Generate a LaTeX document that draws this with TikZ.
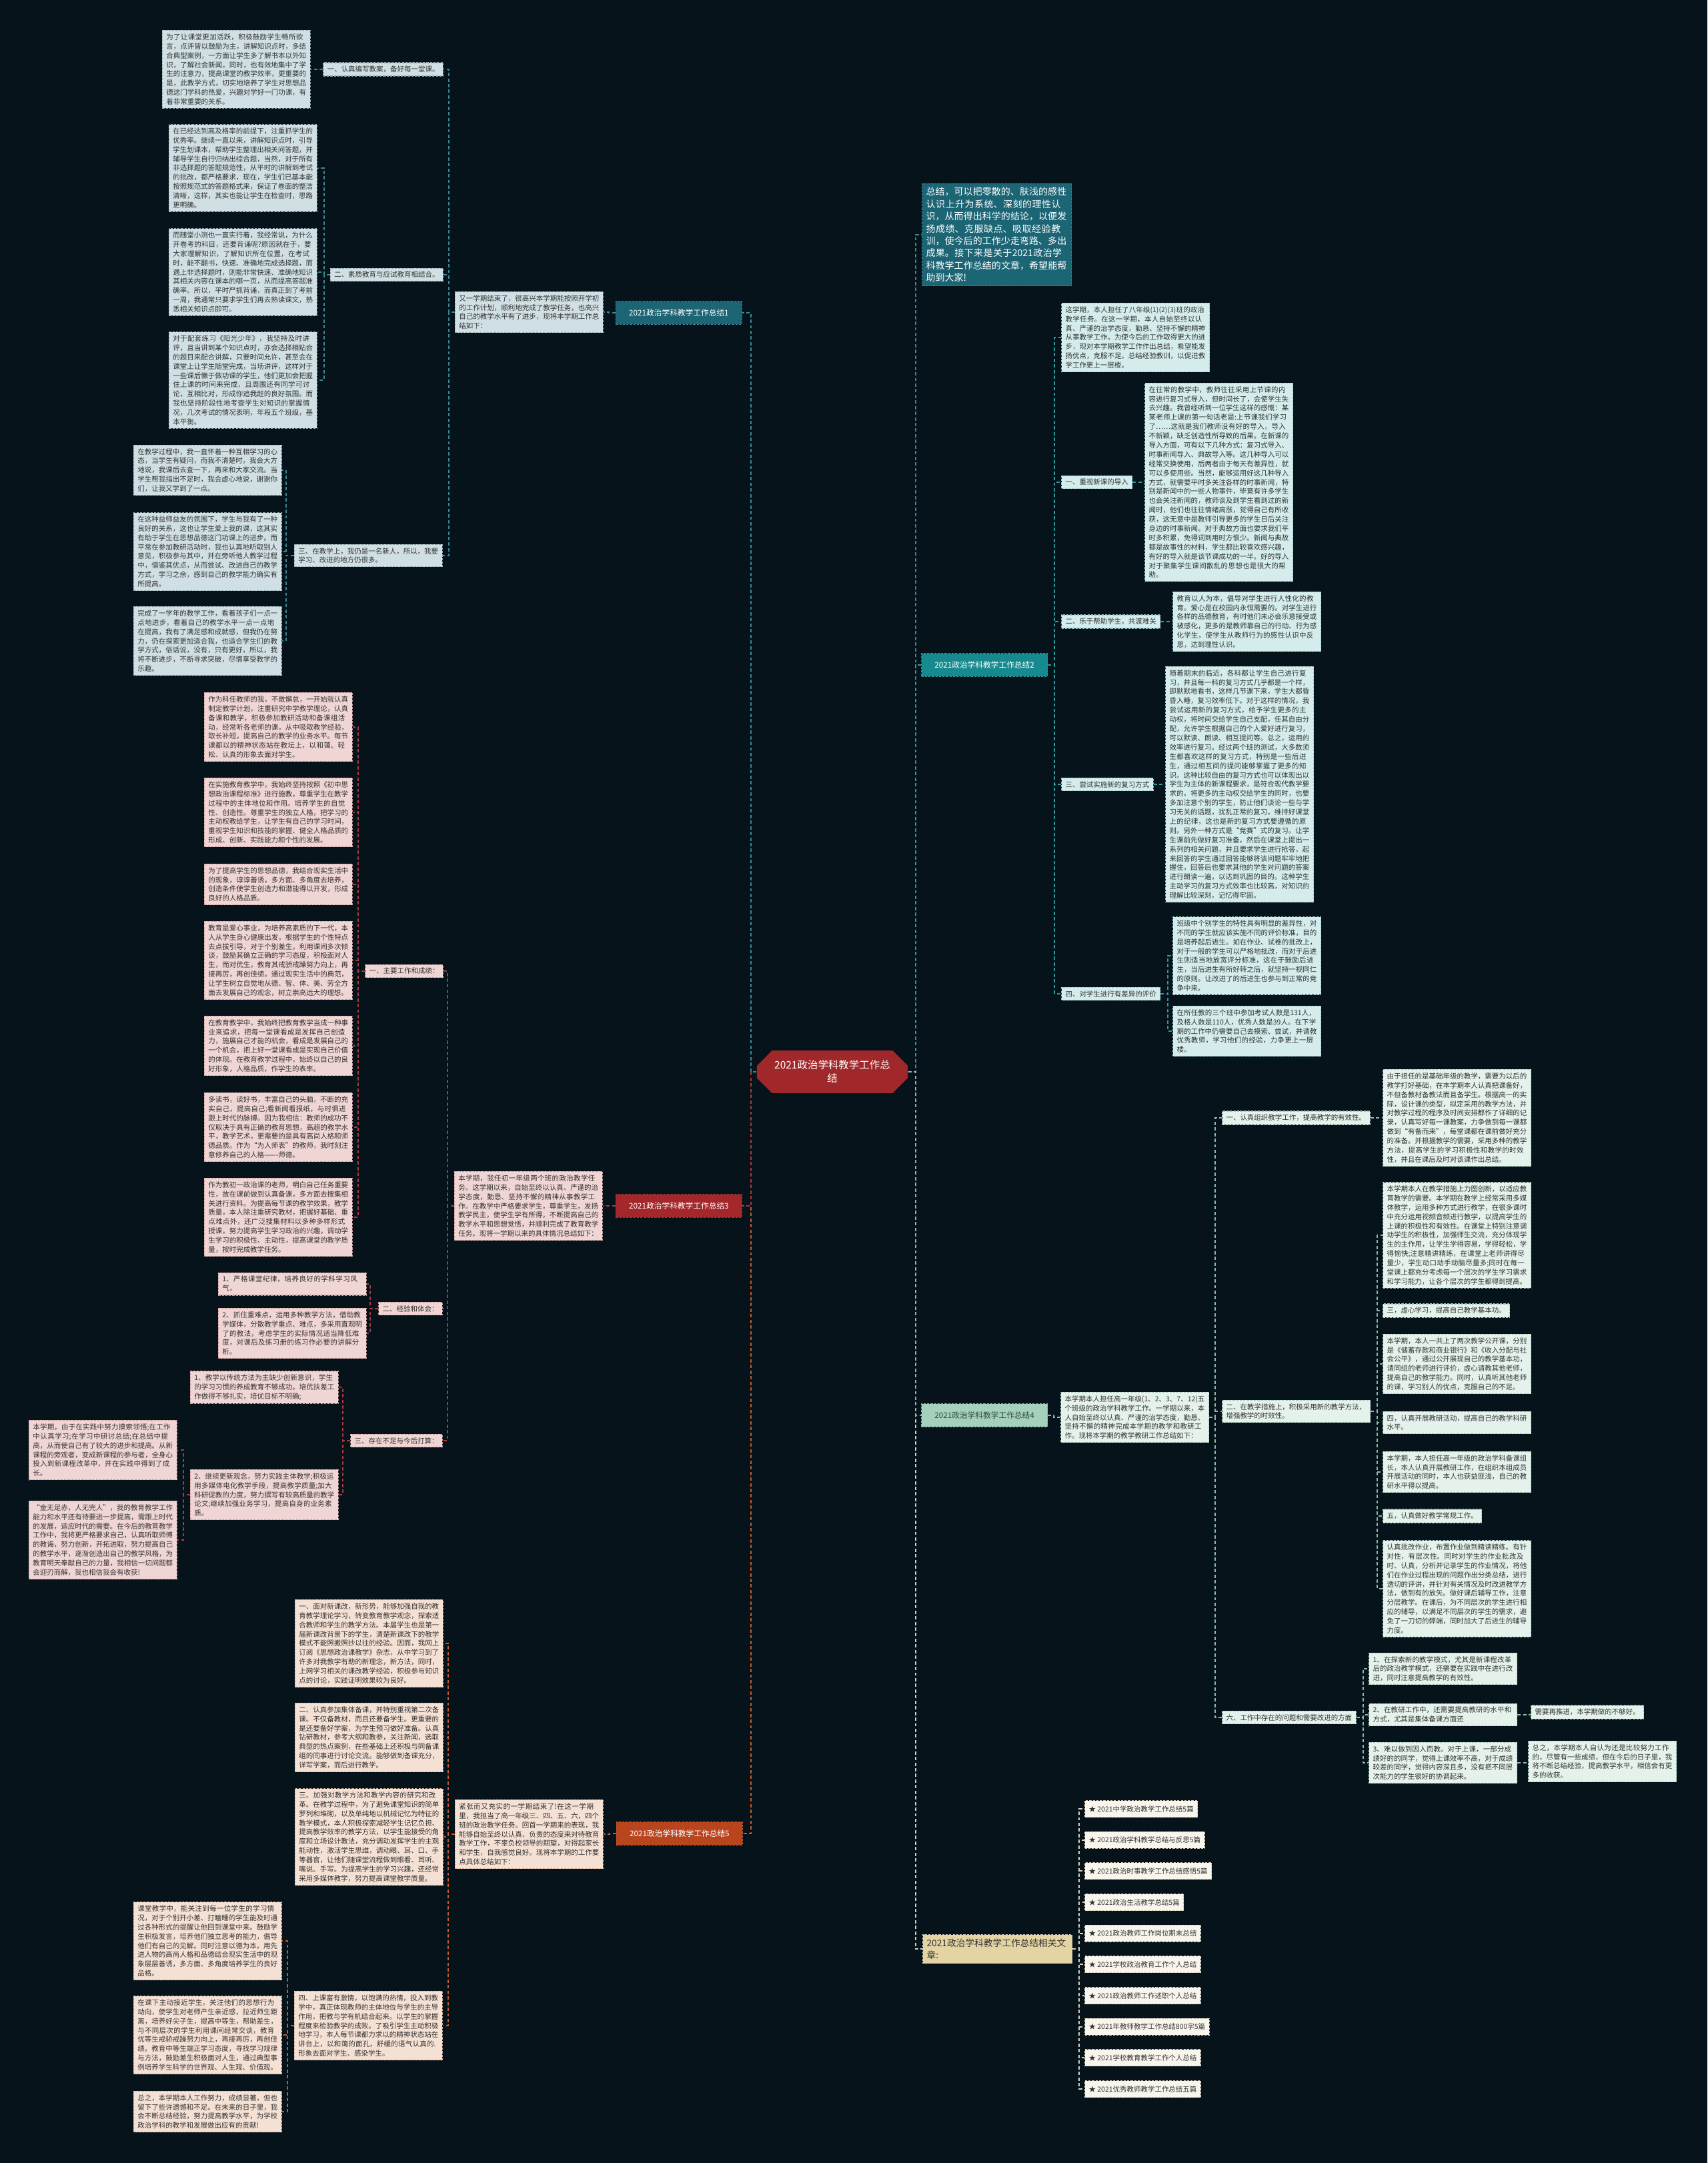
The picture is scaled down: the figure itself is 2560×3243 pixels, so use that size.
\documentclass[tikz,border=0pt]{standalone}
\usepackage{fontspec}
\setmainfont{Noto Sans CJK SC}
\usetikzlibrary{calc,shapes.misc,positioning}
\XeTeXlinebreaklocale "zh"
\XeTeXlinebreakskip = 0pt plus 0.4pt
\definecolor{bgcol}{HTML}{06131B}
\definecolor{inkdark}{HTML}{333333}
\definecolor{rootF}{HTML}{A0282B}
\definecolor{seaB}{HTML}{1C6575}\definecolor{seaF}{HTML}{D0DFE3}\definecolor{seaD}{HTML}{90A8AE}\definecolor{seaL}{HTML}{3C8796}
\definecolor{aquaB}{HTML}{168A8E}\definecolor{aquaF}{HTML}{D4ECEC}\definecolor{aquaD}{HTML}{9CC5C5}\definecolor{aquaL}{HTML}{2B9C9C}
\definecolor{roseB}{HTML}{A3272B}\definecolor{roseF}{HTML}{EFD5D3}\definecolor{roseD}{HTML}{C89A98}\definecolor{roseL}{HTML}{A83A3C}
\definecolor{mintB}{HTML}{A5D0BC}\definecolor{mintF}{HTML}{E4F2EB}\definecolor{mintD}{HTML}{A6C7B6}\definecolor{mintL}{HTML}{8EBBA6}
\definecolor{mintT}{HTML}{2E4A3F}
\definecolor{peachB}{HTML}{B9451E}\definecolor{peachF}{HTML}{F5E0D4}\definecolor{peachD}{HTML}{D0A890}\definecolor{peachL}{HTML}{C25A2D}
\definecolor{sandB}{HTML}{E4D4A4}\definecolor{sandF}{HTML}{F8F5EC}\definecolor{sandD}{HTML}{CFC8B0}\definecolor{sandL}{HTML}{D8D2BE}
\newcommand\pfont{\fontsize{2.98pt}{3.95pt}\selectfont}
\newcommand\bfont{\fontsize{3.33pt}{4pt}\selectfont}
\newcommand\rfont{\fontsize{4.4pt}{5.7pt}\selectfont}
\newcommand\sfont{\fontsize{3.98pt}{5.23pt}\selectfont}
\newcommand\afont{\fontsize{3.9pt}{5.2pt}\selectfont}
\tikzset{
	box/.style={
		rectangle, font=\pfont, text=inkdark,
		inner xsep=0.06cm, inner ysep=0.05cm,
		line width=0.3pt, dash pattern=on 0.9pt off 0.6pt
	},
	para/.style={box, text width=2.10cm, align=left},
	branch/.style={
		rectangle, font=\bfont, text=white,
		inner xsep=0.07cm, minimum height=0.27cm, minimum width=1.89cm,
		line width=0.3pt, dash pattern=on 0.9pt off 0.6pt
	},
	root/.style={
		chamfered rectangle, chamfered rectangle xsep=0.1cm,
		fill=rootF, text=white, font=\rfont, align=center,
		minimum width=2.26cm, minimum height=0.62cm, inner sep=0.02cm
	},
	link/.style={line width=0.55pt, dash pattern=on 1.4pt off 1pt},
	sea/.style={fill=seaF, draw=seaD}, aqua/.style={fill=aquaF, draw=aquaD},
	rose/.style={fill=roseF, draw=roseD}, mint/.style={fill=mintF, draw=mintD},
	peach/.style={fill=peachF, draw=peachD}, sand/.style={fill=sandF, draw=sandD}
}
\begin{document}
\begin{tikzpicture}[x=0.01cm, y=-0.01cm]
\useasboundingbox (0,0) rectangle (2560,3243);
\fill[bgcol] (0,0) rectangle (2560,3243);

% centre
\node[root] (root) at (1248,1607) {2021政治学科教学工作总\\结};

% ---------- left: 总结1 ----------
\node[branch, fill=seaB, draw=seaL, anchor=east] (zj1) at (1113,469) {2021政治学科教学工作总结1};
\node[para, sea, anchor=east] (in1) at (905,468) {又一学期结束了，很高兴本学期能按照开学初的工作计划，顺利地完成了教学任务，也高兴自己的教学水平有了进步，现将本学期工作总结如下：};
\node[box, sea, anchor=east] (t1a) at (665,104) {一、认真编写教案，备好每一堂课。};
\node[para, sea, anchor=east] (p1a) at (466,104) {为了让课堂更加活跃，积极鼓励学生畅所欲言，点评皆以鼓励为主，讲解知识点时，多结合典型案例，一方面让学生多了解书本以外知识，了解社会新闻，同时，也有效地集中了学生的注意力，提高课堂的教学效率，更重要的是，此教学方式，切实地培养了学生对思想品德这门学科的热爱，兴趣对学好一门功课，有着非常重要的关系。};
\node[box, sea, anchor=east] (t1b) at (665,412) {二、素质教育与应试教育相结合。};
\node[para, sea, anchor=east] (p1b1) at (476,252) {在已经达到高及格率的前提下，注重抓学生的优秀率。继续一直以来，讲解知识点时，引导学生划课本，帮助学生整理出相关问答题，并辅导学生自行归纳出综合题，当然，对于所有非选择题的答题规范性，从平时的讲解到考试的批改，都严格要求，现在，学生们已基本能按照规范式的答题格式来，保证了卷面的整洁清晰，这样，其实也能让学生在检查时，思路更明确。};
\node[para, sea, anchor=east] (p1b2) at (476,408) {而随堂小测也一直实行着，我经常说，为什么开卷考的科目，还要背诵呢?原因就在于，要大家理解知识，了解知识所在位置，在考试时，能不翻书，快速、准确地完成选择题，而遇上非选择题时，则能非常快速、准确地知识其相关内容在课本的哪一页，从而提高答题准确率。所以，平时严抓背诵，而真正到了考前一周，我通常只要求学生们再去熟读课文，熟悉相关知识点即可。};
\node[para, sea, anchor=east] (p1b3) at (476,570) {对于配套练习《阳光少年》，我坚持及时讲评，且当讲到某个知识点时，亦会选择相贴合的题目来配合讲解，只要时间允许，甚至会在课堂上让学生随堂完成，当场讲评，这样对于一些课后懒于做功课的学生，他们更加会把握住上课的时间来完成，且周围还有同学可讨论，互相比对，形成你追我赶的良好氛围。而我也坚持阶段性地考查学生对知识的掌握情况，几次考试的情况表明，年段五个班级，基本平衡。};
\node[para, sea, anchor=east] (t1c) at (664,833) {三、在教学上，我仍是一名新人，所以，我要学习、改进的地方仍很多。};
\node[para, sea, anchor=east] (p1c1) at (423,705) {在教学过程中，我一直怀着一种互相学习的心态，当学生有疑问，而我不清楚时，我会大方地说，我课后去查一下，再来和大家交流。当学生帮我指出不足时，我会虚心地说，谢谢你们，让我又学到了一点。};
\node[para, sea, anchor=east] (p1c2) at (423,827) {在这种益师益友的氛围下，学生与我有了一种良好的关系，这也让学生爱上我的课，这其实有助于学生在思想品德这门功课上的进步。而平常在参加教研活动时，我也认真地听取别人意见，积极参与其中，并在旁听他人教学过程中，借鉴其优点，从而尝试、改进自己的教学方式，学习之余，感到自己的教学能力确实有所提高。};
\node[para, sea, anchor=east] (p1c3) at (423,961) {完成了一学年的教学工作，看着孩子们一点一点地进步，看着自己的教学水平一点一点地在提高，我有了满足感和成就感，但我仍在努力，仍在探索更加适合我，也适合学生们的教学方式，俗话说，没有，只有更好，所以，我将不断进步，不断寻求突破，尽情享受教学的乐趣。};

% ---------- left: 总结3 ----------
\node[branch, fill=roseB, draw=roseL, anchor=east] (zj3) at (1113,1808) {2021政治学科教学工作总结3};
\node[para, rose, anchor=east] (in3) at (904,1808) {本学期，我任初一年级两个班的政治教学任务。这学期以来，自始至终以认真、严谨的治学态度，勤恳、坚持不懈的精神从事教学工作。在教学中严格要求学生，尊重学生，发扬教学民主，使学生学有所得，不断提高自己的教学水平和思想觉悟，并顺利完成了教育教学任务。现将一学期以来的具体情况总结如下：};
\node[box, rose, anchor=east] (t3a) at (665,1456) {一、主要工作和成绩：};
\node[para, rose, anchor=east] (p3a1) at (529,1090) {作为科任教师的我，不敢懈怠，一开始就认真制定教学计划，注重研究中学教学理论，认真备课和教学，积极参加教研活动和备课组活动，经常听各老师的课，从中吸取教学经验，取长补短，提高自己的教学的业务水平。每节课都以的精神状态站在教坛上，以和蔼、轻松、认真的形象去面对学生。};
\node[para, rose, anchor=east] (p3a2) at (529,1218) {在实施教育教学中，我始终坚持按照《初中思想政治课程标准》进行施教，尊重学生在教学过程中的主体地位和作用。培养学生的自觉性、创造性。尊重学生的独立人格，把学习的主动权教给学生，让学生有自己的学习时间，重视学生知识和技能的掌握、健全人格品质的形成、创新、实践能力和个性的发展。};
\node[para, rose, anchor=east] (p3a3) at (529,1326) {为了提高学生的思想品德，我结合现实生活中的现象，谆谆善诱，多方面、多角度去培养，创造条件使学生创造力和潜能得以开发，形成良好的人格品质。};
\node[para, rose, anchor=east] (p3a4) at (529,1440) {教育是爱心事业，为培养高素质的下一代，本人从学生身心健康出发，根据学生的个性特点去点拔引导，对于个别差生，利用课间多次倾谈，鼓励其确立正确的学习态度，积极面对人生，而对优生，教育其戒骄戒躁努力向上，再接再厉，再创佳绩。通过现实生活中的典范，让学生树立自觉地从德、智、体、美、劳全方面去发展自己的观念，树立崇高远大的理想。};
\node[para, rose, anchor=east] (p3a5) at (529,1568) {在教育教学中，我始终把教育教学当成一种事业来追求，把每一堂课看成是发挥自己创造力，施展自己才能的机会，看成是发展自己的一个机会，把上好一堂课看成是实现自己价值的体现。在教育教学过程中，始终以自己的良好形象，人格品质，作学生的表率。};
\node[para, rose, anchor=east] (p3a6) at (529,1690) {多读书，读好书，丰富自己的头脑，不断的充实自己，提高自己;看新闻看报纸，与时俱进跟上时代的脉搏。因为我相信：教师的成功不仅取决于具有正确的教育思想，高超的教学水平，教学艺术，更需要的是具有高尚人格和师德品质。作为“为人师表”的教师，我时刻注意修养自己的人格-------师德。};
\node[para, rose, anchor=east] (p3a7) at (529,1825) {作为教初一政治课的老师，明白自己任务重要性，故在课前做到认真备课，多方面去搜集相关进行资料。为提高每节课的教学效果，教学质量，本人除注重研究教材，把握好基础、重点难点外，还广泛搜集材料以多种多样形式授课，努力提高学生学习政治的兴趣，调动学生学习的积极性、主动性，提高课堂的教学质量，按时完成教学任务。};
\node[box, rose, anchor=east] (t3b) at (664,1962) {二、经验和体会：};
\node[para, rose, anchor=east] (p3b1) at (550,1925) {1、严格课堂纪律，培养良好的学科学习风气，};
\node[para, rose, anchor=east] (p3b2) at (550,1999) {2、抓住重难点，运用多种教学方法，借助教学媒体，分散教学重点、难点，多采用直观明了的教法，考虑学生的实际情况适当降低难度，对课后及练习册的练习作必要的讲解分析。};
\node[box, rose, anchor=east] (t3c) at (664,2160) {三、存在不足与今后打算：};
\node[para, rose, anchor=east] (p3c1) at (508,2080) {1、教学以传统方法为主缺少创新意识，学生的学习习惯的养成教育不够成功。培优扶差工作做得不够扎实，培优目标不明确;};
\node[para, rose, anchor=east] (p3c2) at (508,2241) {2、继续更新观念，努力实践主体教学;积极运用多媒体电化教学手段，提高教学质量;加大科研促教的力度，努力撰写有较高质量的教学论文;继续加强业务学习，提高自身的业务素质。};
\node[para, rose, anchor=east] (p3d1) at (266,2174) {本学期，由于在实践中努力摸索领悟;在工作中认真学习;在学习中研讨总结;在总结中提高，从而使自己有了较大的进步和提高。从新课程的旁观者，变成新课程的参与者，全身心投入到新课程改革中，并在实践中得到了成长。};
\node[para, rose, anchor=east] (p3d2) at (266,2309) {“金无足赤，人无完人”，我的教育教学工作能力和水平还有待要进一步提高，需跟上时代的发展，适应时代的需要。在今后的教育教学工作中，我将更严格要求自己，认真听取师傅的教诲，努力创新，开拓进取，努力提高自己的教学水平，逐渐创造出自己的教学风格，为教育明天奉献自己的力量，我相信一切问题都会迎刃而解，我也相信我会有收获!};

% ---------- left: 总结5 ----------
\node[branch, fill=peachB, draw=peachL, anchor=east] (zj5) at (1114,2749) {2021政治学科教学工作总结5};
\node[para, peach, anchor=east] (in5) at (905,2750) {紧张而又充实的一学期结束了!在这一学期里，我担当了高一年级三、四、五、六，四个班的政治教学任务。回首一学期来的表现，我能够自始至终以认真、负责的态度来对待教育教学工作，不辜负校领导的期望，对得起家长和学生，自我感觉良好。现将本学期的工作要点具体总结如下：};
\node[para, peach, anchor=east] (p5a) at (665,2464) {一、面对新课改，新形势，能够加强自我的教育教学理论学习，转变教育教学观念，探索适合教师和学生的教学方法。本届学生也是第一届新课改背景下的学生，清楚新课改下的教学模式不能照搬照抄以往的经验。因而，我网上订阅《思想政治课教学》杂志，从中学习到了许多对我教学有助的新理念，新方法，同时，上网学习相关的课改教学经验，积极参与知识点的讨论，实践证明效果较为良好。};
\node[para, peach, anchor=east] (p5b) at (665,2605) {二、认真参加集体备课，并特别重视第二次备课。不仅备教材，而且还要备学生。更重要的是还要备好学案，为学生预习做好准备。认真钻研教材，参考大纲和教参，关注新闻，选取典型的热点案例，在些基础上还积极与同备课组的同事进行讨论交流。能够做到备课充分，详写学案，而后进行教学。};
\node[para, peach, anchor=east] (p5c) at (665,2754) {三、加强对教学方法和教学内容的研究和改革。在教学过程中，为了避免课堂知识的简单罗列和堆砌，以及单纯地以机械记忆为特征的教学模式，本人积极探索减轻学生记忆负担、提高教学效率的教学方法，以学生能接受的角度和立场设计教法，充分调动发挥学生的主观能动性，激活学生思维，调动眼、耳、口、手等器官，让他们随课堂流程做到眼看、耳听、嘴说、手写。为提高学生的学习兴趣，还经常采用多媒体教学，努力提高课堂教学质量。};
\node[para, peach, anchor=east] (p5d) at (664,3037) {四、上课富有激情，以饱满的热情，投入到教学中，真正体现教师的主体地位与学生的主导作用，把教与学有机结合起来。以学生的掌握程度来检验教学的成败。了吸引学生主动积极地学习，本人每节课都力求以的精神状态站在讲台上，以和蔼的面孔，舒缓的语气认真的.形象去面对学生、感染学生。};
\node[para, peach, anchor=east] (p5e) at (423,2910) {课堂教学中，能关注到每一位学生的学习情况，对于个别开小差、打瞌睡的学生能及时通过各种形式的提醒让他回到课堂中来。鼓励学生积极发言，培养他们独立思考的能力，倡导他们有自己的见解。同时注意以德为本，用先进人物的高尚人格和品德结合现实生活中的现象层层善诱，多方面、多角度培养学生的良好品格。};
\node[para, peach, anchor=east] (p5f) at (423,3051) {在课下主动接近学生，关注他们的思想行为动向，使学生对老师产生亲近感，拉近师生距离，培养好尖子生，提高中等生，帮助差生，与不同层次的学生利用课间经常交谈，教育优等生戒骄戒躁努力向上，再接再厉，再创佳绩。教育中等生端正学习态度，寻找学习规律与方法，鼓励差生积极面对人生，通过典型事例培养学生科学的世界观、人生观、价值观。};
\node[para, peach, anchor=east] (p5g) at (423,3166) {总之，本学期本人工作努力，成绩显著，但也留下了些许遗憾和不足。在未来的日子里，我会不断总结经验，努力提高教学水平，为学校政治学科的教学和发展做出应有的贡献!};

% ---------- right: summary and 总结2 ----------
\node[rectangle, fill=seaB, draw=seaL, text=white, font=\sfont, text width=2.12cm, align=left, inner xsep=0.06cm, inner ysep=0.06cm, line width=0.3pt, dash pattern=on 0.9pt off 0.6pt, anchor=west] (sum) at (1382,352) {总结，可以把零散的、肤浅的感性认识上升为系统、深刻的理性认识，从而得出科学的结论，以便发扬成绩、克服缺点、吸取经验教训，使今后的工作少走弯路、多出成果。接下来是关于2021政治学科教学工作总结的文章，希望能帮助到大家!};
\node[branch, fill=aquaB, draw=aquaL, anchor=west] (zj2) at (1381,997) {2021政治学科教学工作总结2};
\node[para, aqua, anchor=west] (in2) at (1591,506) {这学期，本人担任了八年级(1)(2)(3)班的政治教学任务。在这一学期，本人自始至终以认真、严谨的治学态度，勤恳、坚持不懈的精神从事教学工作。为使今后的工作取得更大的进步，现对本学期教学工作作出总结，希望能发扬优点，克服不足，总结经验教训，以促进教学工作更上一层楼。};
\node[box, aqua, anchor=west] (t2a) at (1591,723) {一、重视新课的导入};
\node[para, aqua, anchor=west] (p2a) at (1716,723) {在往常的教学中，教师往往采用上节课的内容进行复习式导入，但时间长了，会使学生失去兴趣。我曾经听到一位学生这样的感慨：某某老师上课的第一句话老是:上节课我们学习了……这就是我们教师没有好的导入，导入不新颖，缺乏创造性所导致的后果。在新课的导入方面，可有以下几种方式：复习式导入、时事新闻导入、典故导入等。这几种导入可以经常交换使用，后两者由于每天有差异性，就可以多使用些。当然，能够运用好这几种导入方式，就需要平时多关注各样的时事新闻，特别是新闻中的一些人物事件，毕竟有许多学生也会关注新闻的，教师谈及到学生看到过的新闻时，他们也往往情绪高涨，觉得自己有所收获，这无意中是教师引导更多的学生日后关注身边的时事新闻。对于典故方面也要求我们平时多积累，免得词到用时方恨少。新闻与典故都是故事性的材料，学生都比较喜欢感兴趣，有好的导入就是该节课成功的一半。好的导入对于聚集学生课间散乱的思想也是很大的帮助。};
\node[box, aqua, anchor=west] (t2b) at (1591,932) {二、乐于帮助学生，共渡难关};
\node[para, aqua, anchor=west] (p2b) at (1758,932) {教育以人为本，倡导对学生进行人性化的教育。爱心是在校园内永恒需要的。对学生进行各样的品德教育，有时他们未必会乐意接受或被感化，更多的是教师靠自己的行动、行为感化学生，使学生从教师行为的感性认识中反思，达到理性认识。};
\node[box, aqua, anchor=west] (t2c) at (1591,1176) {三、尝试实施新的复习方式};
\node[para, aqua, anchor=west] (p2c) at (1747,1176) {随着期末的临近，各科都让学生自己进行复习，并且每一科的复习方式几乎都是一个样，即默默地看书，这样几节课下来，学生大都昏昏入睡，复习效率低下。对于这样的情况，我尝试运用新的复习方式，给予学生更多的主动权，将时间交给学生自己支配，任其自由分配，允许学生根据自己的个人爱好进行复习，可以默读、朗读、相互提问等。总之，运用的效率进行复习。经过两个班的测试，大多数须生都喜欢这样的复习方式，特别是一些后进生，通过相互间的提问能够掌握了更多的知识。这种比较自由的复习方式也可以体现出以学生为主体的新课程要求，是符合现代教学要求的。将更多的主动权交给学生的同时，也要多加注意个别的学生，防止他们谈论一些与学习无关的话题，扰乱正常的复习，维持好课堂上的纪律，这也是新的复习方式要遵循的原则。另外一种方式是“竞赛”式的复习。让学生课前先做好复习准备，然后在课堂上提出一系列的相关问题，并且要求学生进行抢答，起来回答的学生通过回答能够将该问题牢牢地把握住，回答后也要求其他的学生对问题的答案进行朗读一遍，以达到巩固的目的。这种学生主动学习的复习方式效率也比较高，对知识的理解比较深刻，记忆得牢固。};
\node[box, aqua, anchor=west] (t2d) at (1591,1490) {四、对学生进行有差异的评价};
\node[para, aqua, anchor=west] (p2d1) at (1758,1433) {班级中个别学生的特性具有明显的差异性，对不同的学生就应该实施不同的评价标准，目的是培养起后进生。如在作业、试卷的批改上，对于一般的学生可以严格地批改，而对于后进生则适当地放宽评分标准，这在于鼓励后进生，当后进生有所好转之后，就坚持一视同仁的原则。让改进了的后进生也参与到正常的竞争中来。};
\node[para, aqua, anchor=west] (p2d2) at (1758,1546) {在所任教的三个班中参加考试人数是131人，及格人数是110人，优秀人数是39人。在下学期的工作中仍需要自己去摸索、尝试，并请教优秀教师，学习他们的经验，力争更上一层楼。};

% ---------- right: 总结4 ----------
\node[branch, fill=mintB, draw=mintL, text=mintT, anchor=west] (zj4) at (1381,2122) {2021政治学科教学工作总结4};
\node[para, mint, anchor=west] (in4) at (1590,2125) {本学期本人担任高一年级(1、2、3、7、12)五个班级的政治学科教学工作。一学期以来，本人自始至终以认真、严谨的治学态度，勤恳、坚持不懈的精神完成本学期的教学和教研工作。现将本学期的教学教研工作总结如下：};
\node[box, mint, anchor=west] (t4a) at (1832,1676) {一、认真组织教学工作，提高教学的有效性。};
\node[para, mint, anchor=west] (p4a) at (2073,1676) {由于担任的是基础年级的教学，需要为以后的教学打好基础，在本学期本人认真把课备好，不但备教材备教法而且备学生。根据高一的实际，设计课的类型，拟定采用的教学方法，并对教学过程的程序及时间安排都作了详细的记录，认真写好每一课教案，力争做到每一课都做到“有备而来”，每堂课都在课前做好充分的准备。并根据教学的需要，采用多种的教学方法，提高学生的学习积极性和教学的时效性，并且在课后及时对该课作出总结。};
\node[para, mint, anchor=west] (t4b) at (1832,2116) {二、在教学措施上，积极采用新的教学方法，增强教学的时效性。};
\node[para, mint, anchor=west] (c41) at (2073,1852) {本学期本人在教学措施上力图创新，以适应教育教学的需要。本学期在教学上经常采用多媒体教学，运用多种方式进行教学，在很多课时中充分运用视频音频进行教学，以提高学生的上课的积极性和有效性。在课堂上特别注意调动学生的积极性，加强师生交流，充分体现学生的主作用，让学生学得容易，学得轻松，学得愉快;注意精讲精练，在课堂上老师讲得尽量少，学生动口动手动脑尽量多;同时在每一堂课上都充分考虑每一个层次的学生学习需求和学习能力，让各个层次的学生都得到提高。};
\node[box, mint, anchor=west] (c42) at (2073,1965) {三，虚心学习，提高自己教学基本功。};
\node[para, mint, anchor=west] (c43) at (2073,2045) {本学期，本人一共上了两次教学公开课，分别是《储蓄存款和商业银行》和《收入分配与社会公平》，通过公开展现自己的教学基本功，请同组的老师进行评价，虚心请教其他老师，提高自己的教学能力。同时，认真听其他老师的课，学习别人的优点，克服自己的不足。};
\node[para, mint, anchor=west] (c44) at (2073,2133) {四，认真开展教研活动，提高自己的教学科研水平。};
\node[para, mint, anchor=west] (c45) at (2073,2207) {本学期，本人担任高一年级的政治学科备课组长，本人认真开展教研工作，在组织本组成员开展活动的同时，本人也获益匪浅，自己的教研水平得以提高。};
\node[box, mint, anchor=west] (c46) at (2073,2273) {五，认真做好教学常规工作。};
\node[para, mint, anchor=west] (c47) at (2073,2382) {认真批改作业，布置作业做到精读精练。有针对性，有层次性。同时对学生的作业批改及时、认真，分析并记录学生的作业情况，将他们在作业过程出现的问题作出分类总结，进行透切的评讲，并针对有关情况及时改进教学方法，做到有的放矢。做好课后辅导工作，注意分层教学。在课后，为不同层次的学生进行相应的辅导，以满足不同层次的学生的需求，避免了一刀切的弊端，同时加大了后进生的辅导力度。};
\node[box, mint, anchor=west] (t4c) at (1832,2575) {六、工作中存在的问题和需要改进的方面};
\node[para, mint, anchor=west] (s41) at (2052,2502) {1、在探索新的教学模式，尤其是新课程改革后的政治教学模式，还需要在实践中在进行改进，同时注意提高教学的有效性。};
\node[para, mint, anchor=west] (s42) at (2052,2571) {2、在教研工作中，还需要提高教研的水平和方式，尤其是集体备课方面还};
\node[box, mint, anchor=west] (s42x) at (2295,2567) {需要再推进，本学期做的不够好。};
\node[para, mint, anchor=west] (s43) at (2052,2643) {3、难以做到因人而教。对于上课，一部分成绩好的的同学，觉得上课效率不高，对于成绩较差的同学，觉得内容深且多，没有把不同层次能力的学生很好的协调起来。};
\node[para, mint, anchor=west] (s43x) at (2291,2641) {总之，本学期本人自认为还是比较努力工作的，尽管有一些成绩，但在今后的日子里，我将不断总结经验，提高教学水平，相信会有更多的收获。};

% ---------- right: related ----------
\node[rectangle, fill=sandB, draw=sandD, text=inkdark, font=\afont, text width=2.12cm, align=left, inner xsep=0.06cm, inner ysep=0.06cm, line width=0.3pt, dash pattern=on 0.9pt off 0.6pt, anchor=west] (rel) at (1383,2922) {2021政治学科教学工作总结相关文\\章:};
\foreach \t [count=\i] in {2021中学政治教学工作总结5篇, 2021政治学科教学总结与反思5篇, 2021政治时事教学工作总结感悟5篇, 2021政治生活教学总结5篇, 2021政治教师工作岗位期末总结, 2021学校政治教育工作个人总结, 2021政治教师工作述职个人总结, 2021年教师教学工作总结800字5篇, 2021学校教育教学工作个人总结, 2021优秀教师教学工作总结五篇}
	\node[box, sand, anchor=west, minimum height=0.25cm] (r\i) at (1626,{2712+(\i-1)*46.67}) {★ \t};

% ---------- connectors ----------
\draw[link, peachL] (root.west) -- ++(-8,0) |- (zj5.east);
\draw[link, roseL] (root.west) -- ++(-8,0) |- (zj3.east);
\draw[link, seaL] (root.west) -- ++(-8,0) |- (zj1.east);
\draw[link, seaL] (root.east) -- ++(11,0) |- (sum.west);
\draw[link, aquaL] (root.east) -- ++(11,0) |- (zj2.west);
\draw[link, sandL] (root.east) -- ++(11,0) |- (rel.west);
\draw[link, mintL] (root.east) -- ++(11,0) |- (zj4.west);

\draw[link, seaL] (zj1.west) -- ++(-10,0) |- (in1.east);
\foreach \c in {t1a,t1b,t1c} \draw[link, seaL] (in1.west) -- ++(-9,0) |- (\c.east);
\draw[link, seaL] (t1a.west) -- ++(-9,0) |- (p1a.east);
\foreach \c in {p1b1,p1b2,p1b3} \draw[link, seaL] (t1b.west) -- ++(-9,0) |- (\c.east);
\foreach \c in {p1c1,p1c2,p1c3} \draw[link, seaL] (t1c.west) -- ++(-12,0) |- (\c.east);

\draw[link, roseL] (zj3.west) -- ++(-10,0) |- (in3.east);
\foreach \c in {t3a,t3b,t3c} \draw[link, roseL] (in3.west) -- ++(-10,0) |- (\c.east);
\foreach \c in {p3a1,p3a2,p3a3,p3a4,p3a5,p3a6,p3a7} \draw[link, roseL] (t3a.west) -- ++(-10,0) |- (\c.east);
\foreach \c in {p3b1,p3b2} \draw[link, roseL] (t3b.west) -- ++(-12,0) |- (\c.east);
\foreach \c in {p3c1,p3c2} \draw[link, roseL] (t3c.west) -- ++(-11,0) |- (\c.east);
\foreach \c in {p3d1,p3d2} \draw[link, roseL] (p3c2.west) -- ++(-10,0) |- (\c.east);

\draw[link, peachL] (zj5.west) -- ++(-10,0) |- (in5.east);
\foreach \c in {p5a,p5b,p5c,p5d} \draw[link, peachL] (in5.west) -- ++(-10,0) |- (\c.east);
\foreach \c in {p5e,p5f,p5g} \draw[link, peachL] (p5d.west) -- ++(-10,0) |- (\c.east);

\foreach \c in {in2,t2a,t2b,t2c,t2d} \draw[link, aquaL] (zj2.east) -- ++(10,0) |- (\c.west);
\draw[link, aquaL] (t2a.east) -- (p2a.west |- t2a.east);
\draw[link, aquaL] (t2b.east) -- (p2b.west |- t2b.east);
\draw[link, aquaL] (t2c.east) -- (p2c.west |- t2c.east);
\foreach \c in {p2d1,p2d2} \draw[link, aquaL] (t2d.east) -- ++(11,0) |- (\c.west);

\draw[link, mintL] (zj4.east) -- ++(9,0) |- (in4.west);
\foreach \c in {t4a,t4b,t4c} \draw[link, mintL] (in4.east) -- ++(9,0) |- (\c.west);
\draw[link, mintL] (t4a.east) -- (p4a.west |- t4a.east);
\foreach \c in {c41,c42,c43,c44,c45,c46,c47} \draw[link, mintL] (t4b.east) -- ++(10,0) |- (\c.west);
\foreach \c in {s41,s42,s43} \draw[link, mintL] (t4c.east) -- ++(10,0) |- (\c.west);
\draw[link, mintL] (s42.east) -- (s42x.west |- s42.east);
\draw[link, mintL] (s43.east) -- (s43x.west |- s43.east);

\foreach \i in {1,...,10} \draw[link, sandL] (rel.east) -- ++(10,0) |- (r\i.west);
\end{tikzpicture}
\end{document}
